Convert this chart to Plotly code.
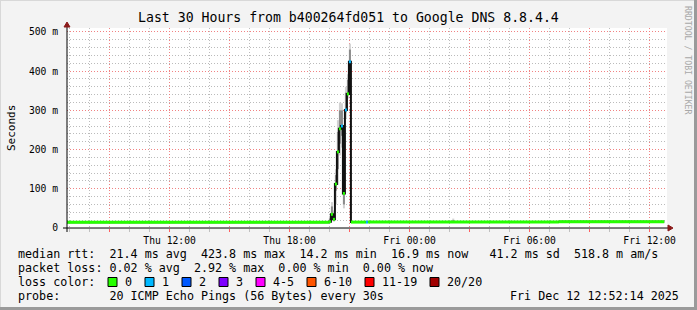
import plotly.graph_objects as go
import pandas as pd

# ---------------- data ----------------
title_text = "Last 30 Hours from b400264fd051 to Google DNS 8.8.4.4"
t_start = "2025-12-11 06:52:14"
t_end = "2025-12-12 12:52:14"

# median rtt steps (ms): step start time, median value, lost pings (of 20)
med_times = ["2025-12-11 06:52:14", "2025-12-11 19:58", "2025-12-11 20:04", "2025-12-11 20:10",
             "2025-12-11 20:16", "2025-12-11 20:22", "2025-12-11 20:28", "2025-12-11 20:34",
             "2025-12-11 20:40", "2025-12-11 20:46", "2025-12-11 20:52", "2025-12-11 20:58",
             "2025-12-11 21:04", "2025-12-11 21:49", "2025-12-11 21:55", "2025-12-12 07:28",
             "2025-12-12 12:44"]
med_vals = [14.5, 16, 35, 22, 112, 194, 253, 260, 88, 301, 342, 424, 15.0, 15.0, 15.0, 16.0, 16.0]
med_loss = [0, 0, 0, 0, 0, 0, 0, 1, 0, 1, 0, 1, 0, 1, 0, 0, 0]

# smoke (ping spread) per 6-minute step
smoke_times = ["2025-12-11 19:58", "2025-12-11 20:04", "2025-12-11 20:10", "2025-12-11 20:16",
               "2025-12-11 20:22", "2025-12-11 20:28", "2025-12-11 20:34", "2025-12-11 20:40",
               "2025-12-11 20:46", "2025-12-11 20:52", "2025-12-11 20:58",
               "2025-12-11 21:49", "2025-12-12 02:08"]
smoke_outer_lo = [14, 22, 16, 60, 110, 185, 205, 50, 280, 330, 395, 15, 15]
smoke_outer_hi = [30, 66, 45, 150, 275, 320, 318, 95, 360, 392, 470, 20, 24]
smoke_inner_lo = [15, 30, 18, 95, 150, 215, 235, 60, 295, 340, 415, 15, 15]
smoke_inner_hi = [24, 55, 34, 135, 245, 300, 300, 90, 345, 378, 455, 17, 20]

loss_labels = ["0", "1", "2", "3", "4-5", "6-10", "11-19", "20/20"]
loss_colors = ["#26ff00", "#00b8ff", "#0059ff", "#7e00ff", "#ff00ff", "#ff5500", "#ff0000", "#a10000"]

y_ticks = [0, 100, 200, 300, 400, 500]
y_ticktext = ["0", "100 m", "200 m", "300 m", "400 m", "500 m"]
x_ticks = ["2025-12-11 09:00", "2025-12-11 12:00", "2025-12-11 15:00", "2025-12-11 18:00",
           "2025-12-11 21:00", "2025-12-12 00:00", "2025-12-12 03:00", "2025-12-12 06:00",
           "2025-12-12 09:00", "2025-12-12 12:00"]
x_ticktext = ["", "Thu 12:00", "", "Thu 18:00", "", "Fri 00:00", "", "Fri 06:00", "", "Fri 12:00"]

legend_rtt = "median rtt:  21.4 ms avg  423.8 ms max  14.2 ms min  16.9 ms now   41.2 ms sd  518.8 m am/s"
legend_loss = "packet loss: 0.02 % avg  2.92 % max  0.00 % min  0.00 % now"
legend_color_title = "loss color:"
legend_probe = "probe:       20 ICMP Echo Pings (56 Bytes) every 30s"
legend_date = "Fri Dec 12 12:52:14 2025"
watermark = "RRDTOOL / TOBI OETIKER"
y_title = "Seconds"

# ---------------- figure ----------------
W, H = 697, 310
L, R, T, B = 67, 667, 28, 228
FONT = "DejaVu Sans Mono"


def PX(x):
    return (x - L) / (R - L)


def PY(y):
    return (B - y) / (B - T)


def nb(s):
    return s.replace(" ", "\u00a0")


fig = go.Figure()

step_ms = 6 * 60 * 1000
# smoke layers
fig.add_trace(go.Bar(x=smoke_times, base=smoke_outer_lo,
                     y=[h - l for h, l in zip(smoke_outer_hi, smoke_outer_lo)],
                     width=step_ms, offset=0, marker=dict(color="#d2d2d2", line=dict(width=0)),
                     hoverinfo="skip"))
fig.add_trace(go.Bar(x=smoke_times, base=smoke_inner_lo,
                     y=[h - l for h, l in zip(smoke_inner_hi, smoke_inner_lo)],
                     width=step_ms, offset=0, marker=dict(color="#8a8a8a", line=dict(width=0)),
                     hoverinfo="skip"))

# median connection line (black, stepped)
fig.add_trace(go.Scatter(x=med_times, y=med_vals, mode="lines",
                         line=dict(color="#111111", width=2, shape="hv"), hoverinfo="skip"))

# colored median segments by loss class
for ci, col in enumerate(loss_colors):
    xs, ys = [], []
    for i in range(len(med_times) - 1):
        if med_loss[i] == ci:
            xs += [med_times[i], med_times[i + 1], None]
            ys += [med_vals[i], med_vals[i], None]
    if xs:
        fig.add_trace(go.Scatter(x=xs, y=ys, mode="lines", line=dict(color=col, width=3),
                                 hoverinfo="skip"))

grid_major = "rgba(250,120,120,0.85)"
grid_minor = "rgba(175,175,175,0.85)"

fig.update_layout(
    width=W, height=H,
    margin=dict(l=L, r=W - R, t=T, b=H - B),
    paper_bgcolor="#f3f3f3", plot_bgcolor="#ffffff",
    showlegend=False, barmode="overlay",
    font=dict(family=FONT, color="#000000", size=10),
    xaxis=dict(type="date", range=[t_start, t_end], tickmode="array",
               tickvals=x_ticks, ticktext=x_ticktext,
               showgrid=True, gridcolor=grid_major, griddash="1px,2px", gridwidth=1,
               ticks="outside", ticklen=3, tickcolor="#ff6060", tickwidth=1,
               tickfont=dict(family=FONT, size=9.7, color="#000"),
               showline=False, zeroline=False,
               minor=dict(tickmode="linear", tick0="2025-12-11 00:00", dtick=3600000,
                          showgrid=True, gridcolor=grid_minor, griddash="1px,2px", gridwidth=1,
                          ticks="outside", ticklen=3, tickcolor="#c0c0c0")),
    yaxis=dict(range=[0, 510], tickmode="array", tickvals=y_ticks, ticktext=y_ticktext,
               showgrid=True, gridcolor=grid_major, griddash="1px,2px", gridwidth=1,
               ticks="outside", ticklen=6, tickcolor="rgba(0,0,0,0)",
               tickfont=dict(family=FONT, size=9.7, color="#000"),
               showline=False, zeroline=False,
               minor=dict(tickmode="linear", tick0=0, dtick=20, showgrid=True,
                          gridcolor=grid_minor, griddash="1px,2px", gridwidth=1)),
)

shapes = []
# image frame
shapes.append(dict(type="line", xref="paper", yref="paper", x0=PX(0), x1=PX(W), y0=PY(0.5), y1=PY(0.5),
                   line=dict(color="#d8d8d8", width=1)))
shapes.append(dict(type="line", xref="paper", yref="paper", x0=PX(0.5), x1=PX(0.5), y0=PY(0), y1=PY(H),
                   line=dict(color="#d8d8d8", width=1)))
shapes.append(dict(type="line", xref="paper", yref="paper", x0=PX(0), x1=PX(W), y0=PY(H - 1.5), y1=PY(H - 1.5),
                   line=dict(color="#9a9a9a", width=3)))
shapes.append(dict(type="line", xref="paper", yref="paper", x0=PX(W - 1.5), x1=PX(W - 1.5), y0=PY(0), y1=PY(H),
                   line=dict(color="#9a9a9a", width=3)))
# axes lines
shapes.append(dict(type="line", xref="paper", yref="paper", x0=PX(63), x1=PX(670), y0=0, y1=0,
                   line=dict(color="#000", width=1)))
shapes.append(dict(type="line", xref="paper", yref="paper", x0=0, x1=0, y0=PY(232), y1=PY(25),
                   line=dict(color="#000", width=1)))
# arrow heads
shapes.append(dict(type="path", xref="paper", yref="paper",
                   path=f"M {PX(668)} {PY(225)} L {PX(673)} {PY(228)} L {PX(668)} {PY(231)} Z",
                   fillcolor="#8b1a1a", line=dict(color="#8b1a1a", width=1)))
shapes.append(dict(type="path", xref="paper", yref="paper",
                   path=f"M {PX(64)} {PY(27)} L {PX(67)} {PY(22)} L {PX(70)} {PY(27)} Z",
                   fillcolor="#8b1a1a", line=dict(color="#8b1a1a", width=1)))

annotations = []
annotations.append(dict(text=nb(title_text), x=PX(348.5), y=PY(18), xref="paper", yref="paper",
                        xanchor="center", yanchor="middle", showarrow=False,
                        font=dict(family=FONT, size=13.2, color="#000")))
annotations.append(dict(text=y_title, x=PX(11), y=PY(128), xref="paper", yref="paper",
                        xanchor="center", yanchor="middle", showarrow=False, textangle=-90,
                        font=dict(family=FONT, size=11, color="#000")))
annotations.append(dict(text=nb(watermark), x=PX(688), y=PY(60), xref="paper", yref="paper",
                        xanchor="center", yanchor="middle", showarrow=False, textangle=90,
                        font=dict(family=FONT, size=8.2, color="#a8a8a8")))

LEG = 11.7
for txt, yy in [(legend_rtt, 254), (legend_loss, 268), (legend_color_title, 282), (legend_probe, 296)]:
    annotations.append(dict(text=nb(txt), x=PX(16), y=PY(yy), xref="paper", yref="paper",
                            xanchor="left", yanchor="middle", showarrow=False,
                            font=dict(family=FONT, size=LEG, color="#000")))
annotations.append(dict(text=nb(legend_date), x=PX(681), y=PY(296), xref="paper", yref="paper",
                        xanchor="right", yanchor="middle", showarrow=False,
                        font=dict(family=FONT, size=LEG, color="#000")))

label_x = [123, 160, 197, 234, 271, 322, 380, 445]
for lab, col, lx in zip(loss_labels, loss_colors, label_x):
    bx = lx - 15
    shapes.append(dict(type="rect", xref="paper", yref="paper",
                       x0=PX(bx), x1=PX(bx + 9), y0=PY(286.5), y1=PY(277.5),
                       fillcolor=col, line=dict(color="#000", width=1)))
    annotations.append(dict(text=nb(lab), x=PX(lx), y=PY(282), xref="paper", yref="paper",
                            xanchor="left", yanchor="middle", showarrow=False,
                            font=dict(family=FONT, size=LEG, color="#000")))

fig.update_layout(shapes=shapes, annotations=annotations)
fig.write_html("out.html")
